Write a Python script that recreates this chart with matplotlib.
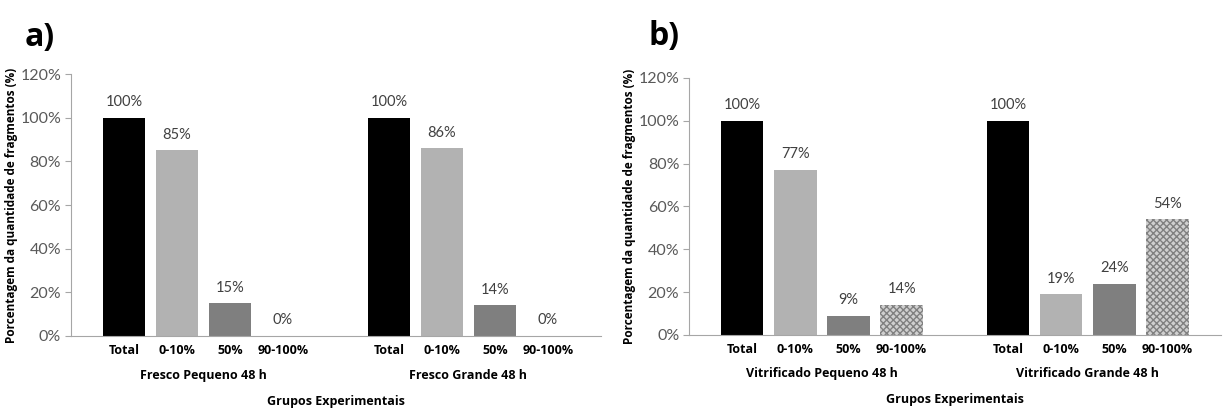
import matplotlib
matplotlib.use("Agg")
import matplotlib.pyplot as plt
import numpy as np

plt.rcParams['font.family'] = ['Lato', 'DejaVu Sans']
plt.rcParams['hatch.linewidth'] = 1.0

categorias = ["Total", "0-10%", "50%", "90-100%"]
cores = ["#000000", "#b2b2b2", "#7f7f7f", "#d0d0d0"]

grupos_a = ["Fresco Pequeno 48 h", "Fresco Grande 48 h"]
valores_a = [[100, 85, 15, 0], [100, 86, 14, 0]]

grupos_b = ["Vitrificado Pequeno 48 h", "Vitrificado Grande 48 h"]
valores_b = [[100, 77, 9, 14], [100, 19, 24, 54]]

negrito = ['Open Sans', 'DejaVu Sans']

fig = plt.figure(figsize=(12.23, 4.08), dpi=100)
ax_a = fig.add_axes([0.058, 0.1765, 0.4334, 0.642])
ax_b = fig.add_axes([0.5634, 0.179, 0.4346, 0.630])


def painel(ax, grupos, valores, letra, lx, ly):
    posicoes = []
    rotulos = []
    for g, vals in enumerate(valores):
        for i, v in enumerate(vals):
            x = g * 5 + i
            posicoes.append(x)
            rotulos.append(categorias[i])
            if i == 3:
                ax.bar(x, v, width=0.8, color=cores[i], hatch='xxxxx',
                       edgecolor='#808080', linewidth=0)
            else:
                ax.bar(x, v, width=0.8, color=cores[i], linewidth=0)
            ax.text(x, v + 4, f"{v}%", ha='center', va='bottom',
                    fontsize=10.5, color='#404040')
        ax.text(g * 5 + 1.5, -0.125, grupos[g], transform=ax.get_xaxis_transform(),
                ha='center', va='top', fontsize=9, fontweight='bold', family=negrito)
    ax.set_xlim(-1, 9)
    ax.set_ylim(0, 120)
    ax.set_xticks(posicoes)
    ax.set_xticklabels(rotulos, fontsize=9, fontweight='bold', family=negrito)
    ax.tick_params(axis='x', length=0, pad=6)
    ax.set_yticks(np.arange(0, 121, 20))
    ax.set_yticklabels([f"{t}%" for t in range(0, 121, 20)], fontsize=11.5, color='#595959')
    ax.tick_params(axis='y', length=4, color='#a6a6a6', pad=3)
    for s in ['top', 'right']:
        ax.spines[s].set_visible(False)
    for s in ['left', 'bottom']:
        ax.spines[s].set_color('#a6a6a6')
    ax.set_ylabel("Porcentagem da quantidade de fragmentos (%)", fontsize=8.5,
                  fontweight='bold', family=negrito, labelpad=2)
    ax.text(0.5, -0.225, "Grupos Experimentais", transform=ax.transAxes,
            ha='center', va='top', fontsize=9, fontweight='bold', family=negrito)
    ax.text(lx, ly, letra, transform=ax.transAxes, ha='left', va='center',
            fontsize=23, fontweight='bold', family=negrito)


painel(ax_a, grupos_a, valores_a, "a)", -0.087, 1.14)
painel(ax_b, grupos_b, valores_b, "b)", -0.077, 1.16)

fig.savefig("out.png", dpi=100)
